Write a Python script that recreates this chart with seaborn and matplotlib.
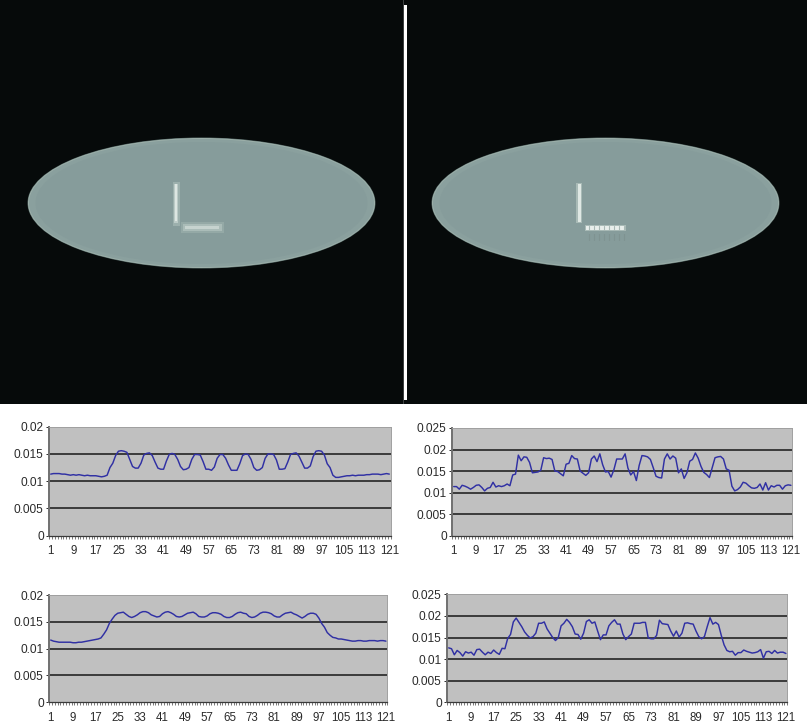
import numpy as np
import pandas as pd
import matplotlib
matplotlib.use('Agg')
import matplotlib.pyplot as plt
from matplotlib.patches import Ellipse, Rectangle
import seaborn as sns

# profile values (index 1..121)
profile_top_left = [
    .0113, .0114, .0114, .0114, .0113, .0113, .0112, .0111, .0112, .0111,
    .0112, .0111, .0110, .0111, .0110, .0110, .0110, .0109, .0108, .0109,
    .0111, .0125, .0133, .0147, .0155, .0156, .0155, .0153, .0140, .0127,
    .0124, .0124, .0133, .0148, .0151, .0152, .0147, .0135, .0124, .0122,
    .0122, .0137, .0149, .0151, .0149, .0140, .0127, .0121, .0122, .0125,
    .0140, .0149, .0149, .0148, .0136, .0122, .0122, .0120, .0126, .0142,
    .0149, .0149, .0142, .0130, .0120, .0120, .0120, .0132, .0147, .0150,
    .0149, .0140, .0125, .0120, .0121, .0125, .0142, .0150, .0150, .0149,
    .0139, .0122, .0122, .0123, .0135, .0149, .0151, .0152, .0146, .0135,
    .0124, .0124, .0128, .0145, .0155, .0156, .0155, .0148, .0132, .0125,
    .0111, .0107, .0107, .0108, .0109, .0110, .0110, .0111, .0110, .0111,
    .0111, .0111, .0112, .0112, .0113, .0113, .0113, .0112, .0113, .0114,
    .0113,
]
profile_top_right = [
    .0114, .0114, .0108, .0117, .0115, .0112, .0108, .0112, .0117, .0118,
    .0112, .0104, .0110, .0112, .0124, .0113, .0116, .0114, .0116, .0120,
    .0116, .0141, .0143, .0187, .0174, .0183, .0182, .0170, .0146, .0147,
    .0148, .0152, .0181, .0179, .0180, .0177, .0150, .0149, .0144, .0139,
    .0166, .0168, .0186, .0179, .0178, .0150, .0145, .0140, .0146, .0178,
    .0185, .0172, .0190, .0165, .0148, .0149, .0136, .0153, .0178, .0178,
    .0178, .0190, .0157, .0141, .0149, .0128, .0163, .0186, .0185, .0183,
    .0177, .0158, .0138, .0135, .0134, .0178, .0190, .0178, .0185, .0180,
    .0146, .0155, .0133, .0146, .0173, .0177, .0192, .0180, .0161, .0147,
    .0142, .0135, .0158, .0181, .0183, .0184, .0178, .0155, .0152, .0115,
    .0104, .0107, .0113, .0124, .0122, .0116, .0111, .0110, .0112, .0120,
    .0106, .0123, .0106, .0116, .0113, .0117, .0117, .0108, .0116, .0118,
    .0117,
]
profile_bottom_left = [
    .0116, .0114, .0113, .0112, .0112, .0112, .0112, .0112, .0111, .0111,
    .0112, .0112, .0113, .0114, .0115, .0116, .0117, .0118, .0120, .0127,
    .0135, .0147, .0155, .0162, .0166, .0167, .0168, .0164, .0160, .0158,
    .0160, .0163, .0167, .0169, .0169, .0167, .0163, .0161, .0159, .0160,
    .0165, .0168, .0169, .0167, .0164, .0160, .0159, .0160, .0163, .0166,
    .0167, .0168, .0165, .0160, .0159, .0159, .0161, .0165, .0167, .0167,
    .0166, .0164, .0160, .0158, .0158, .0160, .0164, .0167, .0168, .0166,
    .0165, .0160, .0158, .0159, .0162, .0166, .0168, .0168, .0167, .0165,
    .0161, .0159, .0159, .0163, .0166, .0167, .0168, .0165, .0163, .0160,
    .0157, .0160, .0164, .0166, .0166, .0164, .0157, .0147, .0140, .0130,
    .0125, .0121, .0120, .0118, .0118, .0117, .0116, .0115, .0114, .0114,
    .0115, .0115, .0114, .0114, .0115, .0115, .0115, .0114, .0115, .0115,
    .0114,
]
profile_bottom_right = [
    .0126, .0124, .0110, .0120, .0115, .0107, .0117, .0114, .0116, .0109,
    .0122, .0123, .0116, .0110, .0116, .0113, .0121, .0115, .0111, .0125,
    .0124, .0148, .0157, .0186, .0195, .0185, .0175, .0163, .0155, .0149,
    .0152, .0160, .0183, .0183, .0186, .0170, .0160, .0150, .0143, .0150,
    .0177, .0183, .0192, .0185, .0175, .0158, .0157, .0146, .0160, .0187,
    .0191, .0183, .0186, .0165, .0145, .0156, .0156, .0177, .0185, .0191,
    .0181, .0181, .0158, .0145, .0152, .0158, .0183, .0183, .0183, .0185,
    .0185, .0149, .0147, .0147, .0155, .0190, .0182, .0181, .0180, .0165,
    .0153, .0165, .0151, .0160, .0183, .0184, .0182, .0181, .0165, .0152,
    .0147, .0152, .0175, .0196, .0181, .0185, .0180, .0155, .0133, .0120,
    .0117, .0118, .0109, .0115, .0115, .0121, .0118, .0116, .0114, .0115,
    .0117, .0122, .0102, .0117, .0118, .0113, .0120, .0114, .0116, .0116,
    .0113,
]

x_labels = list(range(1, 122, 8))
small_ticks = [0, 0.005, 0.01, 0.015, 0.02]
large_ticks = [0, 0.005, 0.01, 0.015, 0.02, 0.025]

W, H = 807, 725
sns.set_theme(style='white')
plt.rcParams['font.family'] = ['Liberation Sans', 'DejaVu Sans']

fig = plt.figure(figsize=(W / 100, H / 100), dpi=100, facecolor='white')


def add_ax(left, top, right, bottom):
    # axes from pixel box
    return fig.add_axes([left / W, 1 - bottom / H, (right - left) / W, (bottom - top) / H])


def draw_profile(box, values, yticks):
    ax = add_ax(*box)
    ax.set_facecolor('#c0c0c0')
    df = pd.DataFrame({'pos': np.arange(1, len(values) + 1), 'val': values})
    for t in yticks[1:-1]:
        ax.axhline(t, color='#1e1e1e', lw=1.15, zorder=1)
    sns.lineplot(data=df, x='pos', y='val', ax=ax, color='#3030a4', lw=1.05, zorder=3)
    ax.set_xlim(0.5, 121.5)
    ax.set_ylim(0, yticks[-1])
    ax.set_xlabel('')
    ax.set_ylabel('')
    ax.set_yticks(yticks)
    ax.set_yticklabels([f'{t:g}' for t in yticks])
    ax.set_xticks(np.arange(0.5, 122, 1), minor=True)
    ax.set_xticks(x_labels)
    ax.set_xticklabels(x_labels)
    ax.tick_params(axis='x', which='major', length=0, pad=7, labelsize=8.3, colors='#2a2a2a')
    ax.tick_params(axis='x', which='minor', length=2.2, width=0.5, color='#444444', bottom=True)
    ax.tick_params(axis='y', length=2.5, width=0.7, pad=1.5, labelsize=8.6, colors='#2a2a2a', left=True)
    for s in ['top', 'right']:
        ax.spines[s].set_color('#a0a0a0')
        ax.spines[s].set_linewidth(0.7)
    ax.spines['left'].set_color('#707070')
    ax.spines['left'].set_linewidth(1.4)
    ax.spines['bottom'].set_color('#3a3a3a')
    ax.spines['bottom'].set_linewidth(0.9)
    return ax


def draw_phantom(box, cx):
    ax = add_ax(*box)
    ax.set_facecolor('#060a0a')
    ax.set_xlim(box[0], box[2])
    ax.set_ylim(box[3], box[1])
    ax.set_xticks([])
    ax.set_yticks([])
    for s in ax.spines.values():
        s.set_visible(False)
    # soft rim, then the body
    ax.add_patch(Ellipse((cx, 203), 348, 131, fc='#566a68', ec='none', zorder=1))
    ax.add_patch(Ellipse((cx, 203), 347, 130, fc='#9db0aa', ec='none', zorder=2))
    ax.add_patch(Ellipse((cx, 203), 345, 128, fc='#8aa09e', ec='none', zorder=3))
    ax.add_patch(Ellipse((cx, 203), 332, 122, fc='#869c9b', ec='none', zorder=3))
    return ax


ax_l = draw_phantom((0, 0, 403, 404), 201.5)
ax_r = draw_phantom((403, 0, 807, 404), 605.5)

# left reconstruction, soft L
ax_l.add_patch(Rectangle((172.5, 182), 7, 44, fc='#9cb0ad', ec='none', zorder=4))
ax_l.add_patch(Rectangle((174, 184), 4, 39, fc='#bccbc7', ec='none', zorder=5))
ax_l.add_patch(Rectangle((175, 184), 2, 37, fc='#dde6e2', ec='none', zorder=6))
ax_l.add_patch(Rectangle((181, 222), 43, 11, fc='#94a9a6', ec='none', zorder=4))
ax_l.add_patch(Rectangle((183, 224), 39, 7, fc='#aabcb8', ec='none', zorder=5))
ax_l.add_patch(Rectangle((185, 226), 34, 3, fc='#c6d3cf', ec='none', zorder=6))

# right reconstruction, sharper L with ripples
ax_r.add_patch(Rectangle((576, 183), 6, 40, fc='#a8bab6', ec='none', zorder=4))
ax_r.add_patch(Rectangle((577.5, 184), 3, 38, fc='#dfe8e4', ec='none', zorder=5))
ax_r.add_patch(Rectangle((585, 225), 41, 6, fc='#a8bab6', ec='none', zorder=4))
ax_r.add_patch(Rectangle((586, 226), 39, 3.5, fc='#e8eeeb', ec='none', zorder=5))
for gx in range(589, 625, 5):
    ax_r.plot([gx, gx], [226, 230], color='#a8b8b5', lw=0.8, zorder=6)
    ax_r.plot([gx, gx], [234, 240], color='#7f9391', lw=0.8, zorder=4)

# white separator between the two images
ax_r.add_patch(Rectangle((404.3, 5), 2.3, 395.5, fc='white', ec='none', zorder=6))
ax_r.add_patch(Rectangle((403, 0), 1.3, 404, fc='#3c4040', ec='none', zorder=5))

draw_profile((49.3, 426.7, 390.7, 535.7), profile_top_left, small_ticks)
draw_profile((452.3, 428, 792.3, 535.7), profile_top_right, large_ticks)
draw_profile((49.3, 595, 387.3, 702.3), profile_bottom_left, small_ticks)
draw_profile((447.3, 594.3, 787.3, 702.3), profile_bottom_right, large_ticks)

fig.savefig('out.png', dpi=100)
